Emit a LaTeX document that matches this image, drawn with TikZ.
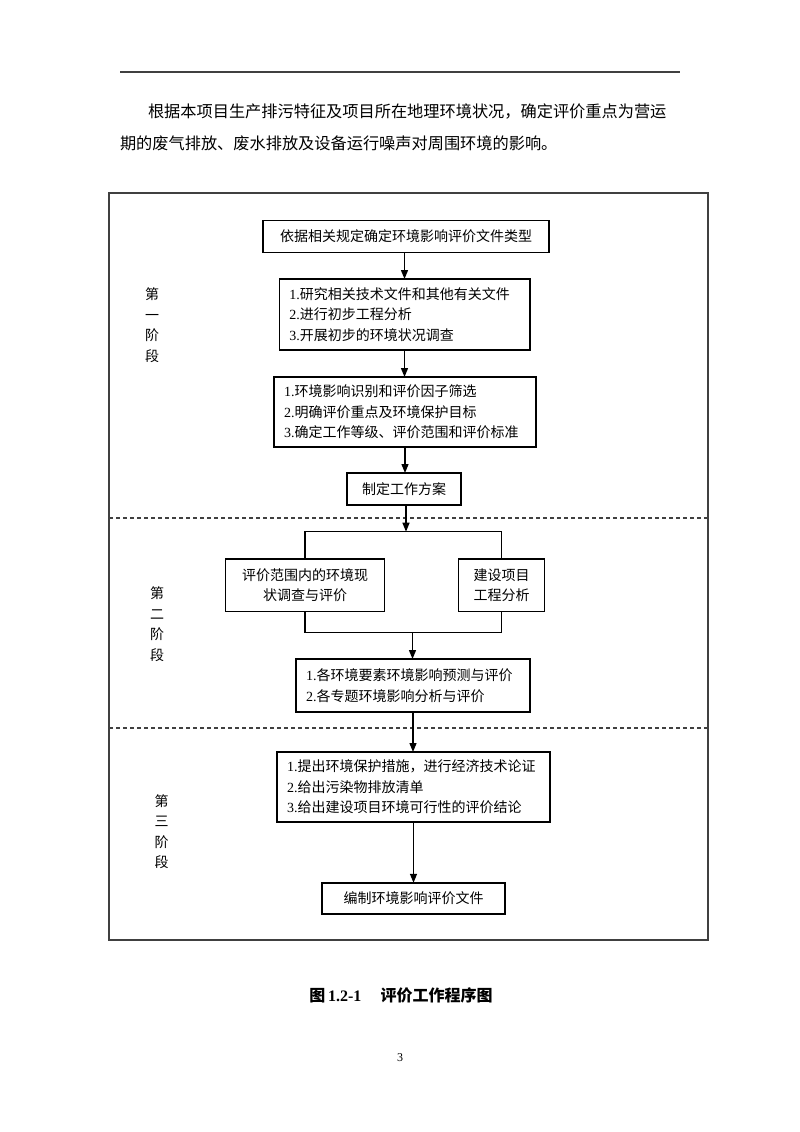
\documentclass[tikz,border=0pt]{standalone}
\usepackage{fontspec}
\setmainfont{Noto Sans CJK SC}
\newfontfamily\tm{Liberation Serif}
\usetikzlibrary{arrows.meta}
\begin{document}
\begin{tikzpicture}[x=1pt,y=-1pt,
  every node/.style={inner sep=0pt,outer sep=0pt},
  txt/.style={font=\fontsize{14}{20.5}\selectfont},
  box/.style={txt,draw=black,line width=1.5pt,align=center},
  listbox/.style={txt,draw=black,line width=1.5pt,align=left,inner xsep=10pt},
  stagelbl/.style={font=\fontsize{14}{20.5}\selectfont,align=center},
  frame/.style={draw=black!75,line width=1.4pt},
  sep/.style={draw=black!75,line width=1.1pt,dash pattern=on 4pt off 3pt},
  conn/.style={draw=black,line width=1.3pt},
  arr/.style={conn,-{Triangle[length=9pt,width=7pt]}}]
\useasboundingbox[fill=white] (0,0) rectangle (800,1132);

% header rule and paragraph
\draw[black!75,line width=1.4pt] (120,72) coordinate (r1) -- (680,72) coordinate (r2);
\node[anchor=west,font=\fontsize{16.2}{20}\selectfont] (p1) at (148,112) {根据本项目生产排污特征及项目所在地理环境状况，确定评价重点为营运};
\node[anchor=west,font=\fontsize{16.2}{20}\selectfont] (p2) at (120,143) {期的废气排放、废水排放及设备运行噪声对周围环境的影响。};

% frame and separators
\draw[frame] (109,193) rectangle (708,940);
\draw[sep] (109,518) coordinate (s1a) -- (708,518) coordinate (s1b);
\draw[sep] (109,728) coordinate (s2a) -- (708,728) coordinate (s2b);

% stage labels
\node[stagelbl] (st1) at (152,325) {第\\一\\阶\\段};
\node[stagelbl] (st2) at (157,624) {第\\二\\阶\\段};
\node[stagelbl] (st3) at (161.5,831.5) {第\\三\\阶\\段};

% stage 1
\node[box,minimum width=286pt,minimum height=32pt] (b1) at (406,236.5) {依据相关规定确定环境影响评价文件类型};
\node[listbox,text width=230.5pt,minimum height=71pt] (b2) at (404.5,314.5)
  {{\tm 1.}研究相关技术文件和其他有关文件\\{\tm 2.}进行初步工程分析\\{\tm 3.}开展初步的环境状况调查};
\node[listbox,text width=242pt,minimum height=70pt] (b3) at (405,412)
  {{\tm 1.}环境影响识别和评价因子筛选\\{\tm 2.}明确评价重点及环境保护目标\\{\tm 3.}确定工作等级、评价范围和评价标准};
\node[box,minimum width=114pt,minimum height=32pt] (b4) at (404,489) {制定工作方案};

\draw[arr] (b1.south -| b2.north) -- (b2.north);
\draw[arr] (b2.south) -- (b2.south |- b3.north);
\draw[arr] (b3.south) -- (b3.south |- b4.north);

% stage 2
\node[box,minimum width=159pt,minimum height=52.5pt] (bl) at (305,585.3) {评价范围内的环境现\\状调查与评价};
\node[box,minimum width=86pt,minimum height=52.5pt] (br) at (501.5,585.3) {建设项目\\工程分析};
\coordinate (tl) at (305,531.7);
\coordinate (tr) at (501.5,531.7);
\coordinate (tm) at (406,531.7);
\coordinate (bl2) at (305,632.7);
\coordinate (br2) at (501.5,632.7);
\coordinate (bm) at (412.5,632.7);
\draw[arr] (b4.south -| tm) -- (tm);
\draw[conn] (bl.north) -- (tl) -- (tr) -- (br.north);
\draw[conn] (bl.south) -- (bl2) -- (br2) -- (br.south);
\node[listbox,text width=214pt,minimum height=53pt] (b5) at (413,685.5)
  {{\tm 1.}各环境要素环境影响预测与评价\\{\tm 2.}各专题环境影响分析与评价};
\draw[arr] (bm) -- (bm |- b5.north);

% stage 3
\node[listbox,text width=253pt,minimum height=70pt] (b6) at (413.5,787)
  {{\tm 1.}提出环境保护措施，进行经济技术论证\\{\tm 2.}给出污染物排放清单\\{\tm 3.}给出建设项目环境可行性的评价结论};
\node[box,minimum width=183pt,minimum height=31pt] (b7) at (413.5,898.3) {编制环境影响评价文件};
\draw[arr] (b5.south) -- (b5.south |- b6.north);
\draw[arr] (b6.south) -- (b6.south |- b7.north);

% caption and page number
\node[font=\fontsize{16}{20}\selectfont\bfseries] (cap) at (401,995) {图\,{\tm\bfseries 1.2-1}\hspace{1.2em}评价工作程序图};
\node[font=\fontsize{12}{14}\selectfont] (pg) at (400,1058) {\tm 3};
\end{tikzpicture}
\end{document}
